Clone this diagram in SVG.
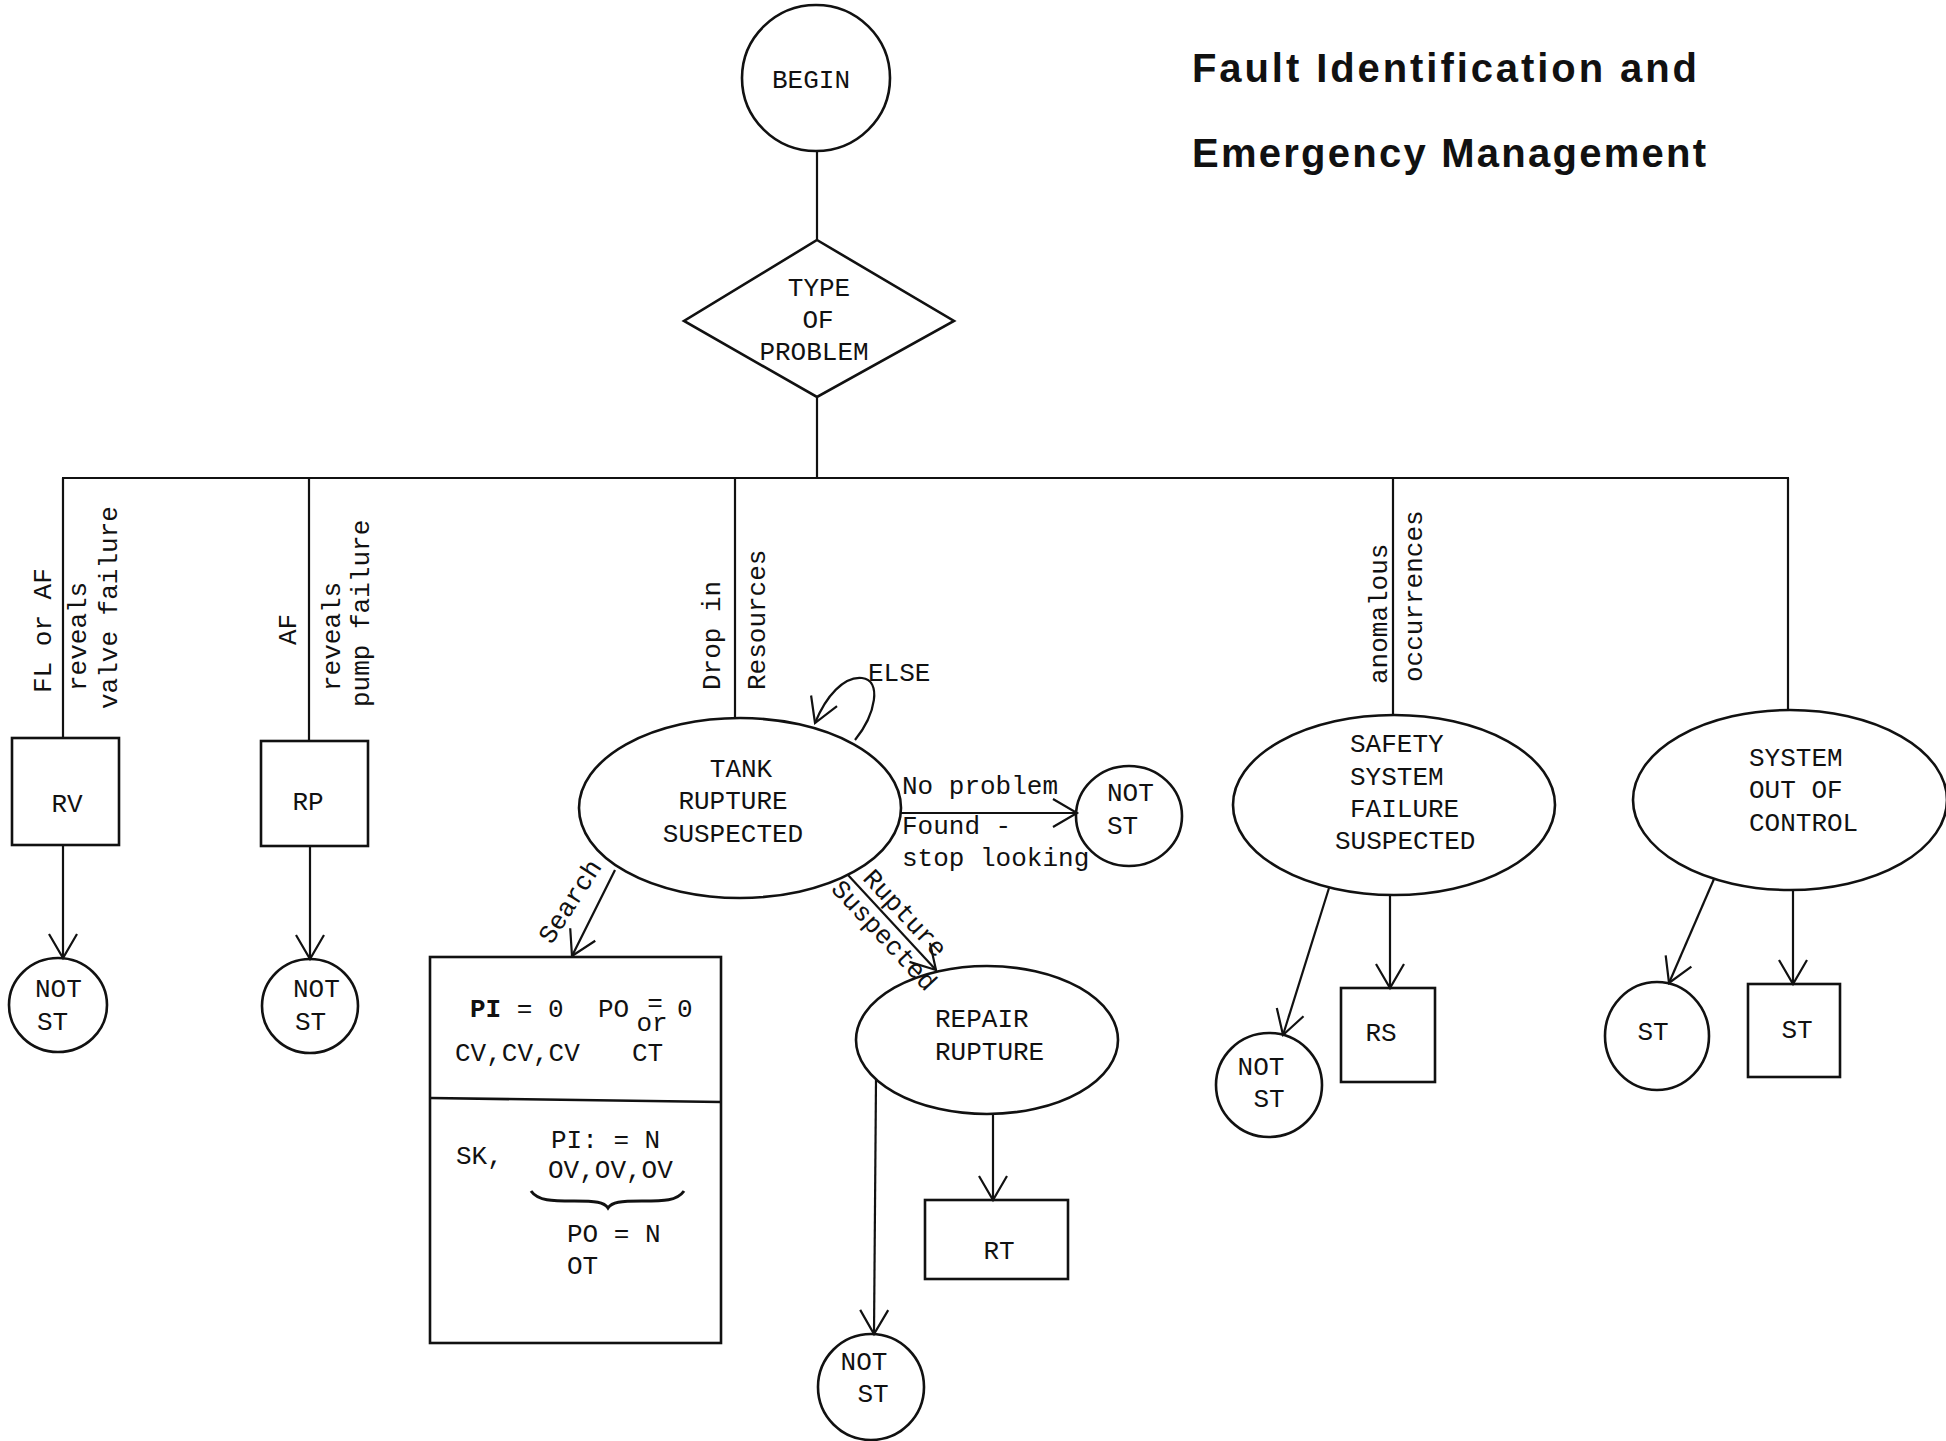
<svg xmlns="http://www.w3.org/2000/svg" width="1946" height="1441" viewBox="0 0 1946 1441">
  <style>
    .shape { fill: none; stroke: #111; stroke-width: 2.6; }
    .conn { fill: none; stroke: #111; stroke-width: 2.2; }
    .arr { marker-end: url(#arrow); }
    .tt { font-family: "Liberation Mono", "DejaVu Sans Mono", monospace; font-size: 26px; fill: #111; }
    .mid { text-anchor: middle; }
    .title { font-family: "Liberation Sans", Arial, sans-serif; font-weight: bold; font-size: 40px; fill: #111; }
  </style>
  <defs>
    <marker id="arrow" markerUnits="userSpaceOnUse" markerWidth="30" markerHeight="32" viewBox="-27 -16 30 32" refX="0" refY="0" orient="auto">
      <path d="M -24 -14 L 0 0 L -24 14" fill="none" stroke="#111" stroke-width="2.2"/>
    </marker>
  </defs>
  <rect width="1946" height="1441" fill="#fff"/>

  <!-- title -->
  <g id="title">
    <text class="title" x="1192" y="82" textLength="505" lengthAdjust="spacing">Fault Identification and</text>
    <text class="title" x="1192" y="167" textLength="514" lengthAdjust="spacing">Emergency Management</text>
  </g>

  <!-- connectors -->
  <g id="connectors">
    <line class="conn" x1="817" y1="151" x2="817" y2="240"/>
    <line class="conn" x1="817" y1="397" x2="817" y2="478"/>
    <line class="conn" x1="62" y1="478" x2="1789" y2="478"/>
    <line class="conn" x1="63" y1="478" x2="63" y2="738"/>
    <line class="conn" x1="309" y1="478" x2="309" y2="741"/>
    <line class="conn" x1="735" y1="478" x2="735" y2="718"/>
    <line class="conn" x1="1393" y1="478" x2="1393" y2="715"/>
    <line class="conn" x1="1788" y1="478" x2="1788" y2="710"/>

    <line class="conn arr" x1="63" y1="845" x2="63" y2="958"/>
    <line class="conn arr" x1="310" y1="846" x2="310" y2="959"/>

    <path class="conn arr" d="M 855 740 C 876 714, 882 680, 862 678 C 844 676, 826 696, 815 723"/>
    <line class="conn arr" x1="901" y1="813" x2="1077" y2="813"/>
    <line class="conn arr" x1="615" y1="870" x2="572" y2="956"/>
    <line class="conn arr" x1="848" y1="875" x2="936" y2="970"/>

    <line class="conn arr" x1="876" y1="1080" x2="874" y2="1334"/>
    <line class="conn arr" x1="993" y1="1114" x2="993" y2="1200"/>

    <line class="conn arr" x1="1329" y1="888" x2="1283" y2="1035"/>
    <line class="conn arr" x1="1390" y1="895" x2="1390" y2="988"/>
    <line class="conn arr" x1="1714" y1="879" x2="1669" y2="983"/>
    <line class="conn arr" x1="1793" y1="889" x2="1793" y2="984"/>

    <!-- branch labels -->
    <text class="tt" transform="translate(51,693) rotate(-90)">FL or AF</text>
    <text class="tt" transform="translate(86,691) rotate(-90)">reveals</text>
    <text class="tt" transform="translate(117,709) rotate(-90)">valve failure</text>

    <text class="tt" transform="translate(296,645) rotate(-90)">AF</text>
    <text class="tt" transform="translate(340,691) rotate(-90)">reveals</text>
    <text class="tt" transform="translate(369,707) rotate(-90)">pump failure</text>

    <text class="tt" transform="translate(720,690) rotate(-90)">Drop in</text>
    <text class="tt" transform="translate(765,690) rotate(-90)">Resources</text>

    <text class="tt" transform="translate(1387,684) rotate(-90)">anomalous</text>
    <text class="tt" transform="translate(1422,682) rotate(-90)">occurrences</text>

    <text class="tt" x="868" y="681">ELSE</text>
    <text class="tt" x="902" y="794">No problem</text>
    <text class="tt" x="902" y="834">Found -</text>
    <text class="tt" x="902" y="866">stop looking</text>
    <text class="tt mid" transform="translate(577,906) rotate(-57)">Search</text>
    <text class="tt mid" transform="translate(899,919) rotate(47)">Rupture</text>
    <text class="tt mid" transform="translate(878,941) rotate(47)">Suspected</text>
  </g>

  <!-- nodes -->
  <g id="begin">
    <ellipse class="shape" cx="816" cy="78" rx="74" ry="73"/>
    <text class="tt mid" x="811" y="88">BEGIN</text>
  </g>

  <g id="type-of-problem">
    <polygon class="shape" points="817,240 954,321 817,397 684,321"/>
    <text class="tt mid" x="819" y="296">TYPE</text>
    <text class="tt mid" x="818" y="328">OF</text>
    <text class="tt mid" x="814" y="360">PROBLEM</text>
  </g>

  <g id="rv">
    <rect class="shape" x="12" y="738" width="107" height="107"/>
    <text class="tt mid" x="67" y="812">RV</text>
  </g>
  <g id="rv-not-st">
    <ellipse class="shape" cx="58" cy="1005" rx="49" ry="47"/>
    <text class="tt" x="35" y="997">NOT</text>
    <text class="tt" x="37" y="1030">ST</text>
  </g>

  <g id="rp">
    <rect class="shape" x="261" y="741" width="107" height="105"/>
    <text class="tt mid" x="308" y="810">RP</text>
  </g>
  <g id="rp-not-st">
    <ellipse class="shape" cx="310" cy="1006" rx="48" ry="47"/>
    <text class="tt" x="293" y="997">NOT</text>
    <text class="tt" x="295" y="1030">ST</text>
  </g>

  <g id="tank-rupture">
    <ellipse class="shape" cx="740" cy="808" rx="161" ry="90"/>
    <text class="tt mid" x="741" y="777">TANK</text>
    <text class="tt mid" x="733" y="809">RUPTURE</text>
    <text class="tt mid" x="733" y="842">SUSPECTED</text>
  </g>

  <g id="tank-not-st">
    <ellipse class="shape" cx="1129" cy="816" rx="53" ry="50"/>
    <text class="tt" x="1107" y="801">NOT</text>
    <text class="tt" x="1107" y="834">ST</text>
  </g>

  <g id="search-box">
    <rect class="shape" x="430" y="957" width="291" height="386"/>
    <line class="shape" x1="430" y1="1098" x2="721" y2="1102"/>
    <text class="tt" x="470" y="1017"><tspan font-weight="bold">PI</tspan> = 0</text>
    <text class="tt" x="598" y="1017">PO</text>
    <text class="tt mid" x="655" y="1011">=</text>
    <text class="tt" x="677" y="1017">0</text>
    <text class="tt mid" x="652" y="1031">or</text>
    <text class="tt" x="455" y="1061">CV,CV,CV</text>
    <text class="tt" x="632" y="1061">CT</text>
    <text class="tt" x="456" y="1164">SK,</text>
    <text class="tt" x="551" y="1148">PI: = N</text>
    <text class="tt" x="548" y="1178">OV,OV,OV</text>
    <path d="M 531 1191 C 538 1201, 552 1201, 574 1201 C 596 1201, 604 1202, 608 1208 C 612 1202, 620 1201, 642 1201 C 664 1201, 677 1201, 684 1191" fill="none" stroke="#111" stroke-width="3"/>
    <text class="tt" x="567" y="1242">PO = N</text>
    <text class="tt" x="567" y="1274">OT</text>
  </g>

  <g id="repair-rupture">
    <ellipse class="shape" cx="987" cy="1040" rx="131" ry="74"/>
    <text class="tt" x="935" y="1027">REPAIR</text>
    <text class="tt" x="935" y="1060">RUPTURE</text>
  </g>

  <g id="rt">
    <rect class="shape" x="925" y="1200" width="143" height="79"/>
    <text class="tt mid" x="999" y="1259">RT</text>
  </g>

  <g id="repair-not-st">
    <ellipse class="shape" cx="871" cy="1387" rx="53" ry="53"/>
    <text class="tt mid" x="864" y="1370">NOT</text>
    <text class="tt mid" x="873" y="1402">ST</text>
  </g>

  <g id="safety-system">
    <ellipse class="shape" cx="1394" cy="805" rx="161" ry="90"/>
    <text class="tt" x="1350" y="752">SAFETY</text>
    <text class="tt" x="1350" y="785">SYSTEM</text>
    <text class="tt" x="1350" y="817">FAILURE</text>
    <text class="tt" x="1335" y="849">SUSPECTED</text>
  </g>

  <g id="safety-not-st">
    <ellipse class="shape" cx="1269" cy="1085" rx="53" ry="52"/>
    <text class="tt mid" x="1261" y="1075">NOT</text>
    <text class="tt mid" x="1269" y="1107">ST</text>
  </g>

  <g id="rs">
    <rect class="shape" x="1341" y="988" width="94" height="94"/>
    <text class="tt mid" x="1381" y="1041">RS</text>
  </g>

  <g id="system-out-of-control">
    <ellipse class="shape" cx="1790" cy="800" rx="157" ry="90"/>
    <text class="tt" x="1749" y="766">SYSTEM</text>
    <text class="tt" x="1749" y="798">OUT OF</text>
    <text class="tt" x="1749" y="831">CONTROL</text>
  </g>

  <g id="st-circle">
    <ellipse class="shape" cx="1657" cy="1036" rx="52" ry="54"/>
    <text class="tt mid" x="1653" y="1040">ST</text>
  </g>

  <g id="st-box">
    <rect class="shape" x="1748" y="984" width="92" height="93"/>
    <text class="tt mid" x="1797" y="1038">ST</text>
  </g>
</svg>
